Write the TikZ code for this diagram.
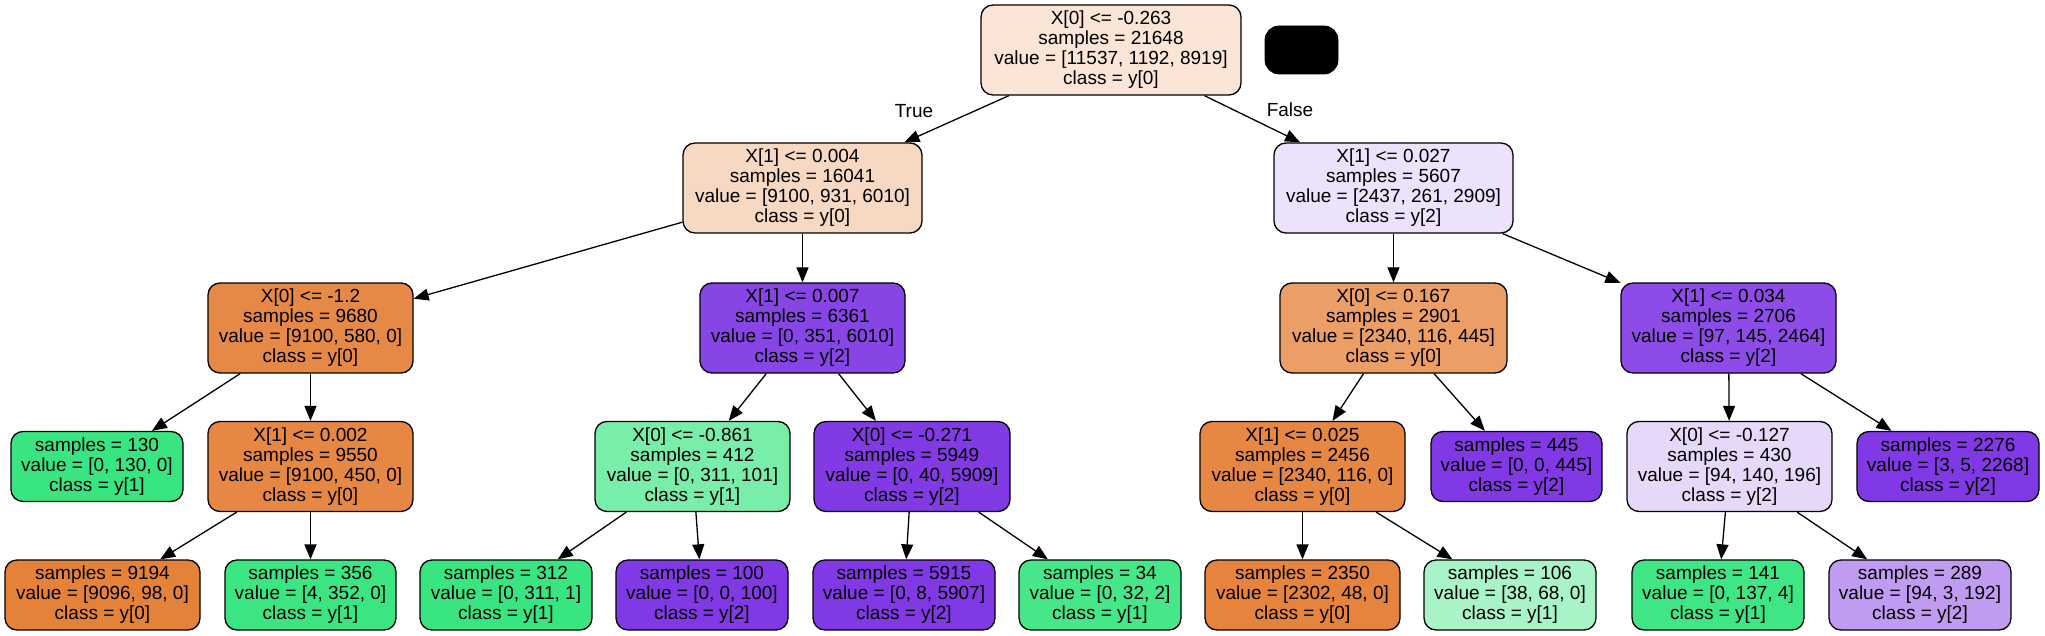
\documentclass[tikz,border=0pt]{standalone}
\usepackage{fontspec}
\setmainfont{Liberation Sans}
\usetikzlibrary{arrows.meta}
\definecolor{cRoot}{RGB}{250,229,214}
\definecolor{cA}{RGB}{247,216,194}
\definecolor{cB}{RGB}{236,226,251}
\definecolor{cC}{RGB}{231,137,70}
\definecolor{cD}{RGB}{136,69,230}
\definecolor{cE}{RGB}{235,158,102}
\definecolor{cF}{RGB}{141,76,231}
\definecolor{cG}{RGB}{57,229,129}
\definecolor{cH}{RGB}{230,135,67}
\definecolor{cI}{RGB}{121,237,170}
\definecolor{cJ}{RGB}{130,58,229}
\definecolor{cK}{RGB}{230,135,67}
\definecolor{cL}{RGB}{129,57,229}
\definecolor{cM}{RGB}{229,216,249}
\definecolor{cN}{RGB}{129,57,229}
\definecolor{cO}{RGB}{229,130,58}
\definecolor{cP}{RGB}{59,229,130}
\definecolor{cQ}{RGB}{57,229,129}
\definecolor{cR}{RGB}{129,57,229}
\definecolor{cS}{RGB}{129,57,229}
\definecolor{cT}{RGB}{69,231,137}
\definecolor{cU}{RGB}{230,131,61}
\definecolor{cV}{RGB}{168,244,199}
\definecolor{cW}{RGB}{63,230,133}
\definecolor{cX}{RGB}{192,155,242}
\tikzset{
  tn/.style={draw=black, rounded corners=6pt, align=center, inner sep=0pt,
    line width=0.65pt, font=\fontsize{9.5}{10}\selectfont, minimum height=45pt},
  leaf/.style={tn, minimum height=35pt},
  edgeline/.style={line width=0.65pt, -{Triangle[length=7.5pt,width=6pt]}},
  lbl/.style={font=\fontsize{9.5}{10}\selectfont, inner sep=0pt}
}
\begin{document}
\begin{tikzpicture}[x=0.5pt,y=-0.5pt]
\useasboundingbox (0,0) rectangle (2045,636);
% level 0
\node[tn, fill=cRoot, minimum width=130pt] (root) at (1111,50) {X[0] <= -0.263\\samples = 21648\\value = [11537, 1192, 8919]\\class = y[0]};
\node[draw=black, fill=black, rounded corners=7pt, minimum width=36.5pt, minimum height=24pt, inner sep=0pt] (blk) at (1301.5,50) {};
% level 1
\node[tn, fill=cA, minimum width=119.5pt] (A) at (802.5,188) {X[1] <= 0.004\\samples = 16041\\value = [9100, 931, 6010]\\class = y[0]};
\node[tn, fill=cB, minimum width=119.5pt] (B) at (1393.5,188) {X[1] <= 0.027\\samples = 5607\\value = [2437, 261, 2909]\\class = y[2]};
% level 2
\node[tn, fill=cC, minimum width=102.5pt] (C) at (310.5,328) {X[0] <= -1.2\\samples = 9680\\value = [9100, 580, 0]\\class = y[0]};
\node[tn, fill=cD, minimum width=102.5pt] (D) at (802.5,328) {X[1] <= 0.007\\samples = 6361\\value = [0, 351, 6010]\\class = y[2]};
\node[tn, fill=cE, minimum width=113.5pt] (E) at (1393.5,328) {X[0] <= 0.167\\samples = 2901\\value = [2340, 116, 445]\\class = y[0]};
\node[tn, fill=cF, minimum width=107.5pt] (F) at (1728.5,328) {X[1] <= 0.034\\samples = 2706\\value = [97, 145, 2464]\\class = y[2]};
% level 3
\node[leaf, fill=cG, minimum width=86pt] (G) at (97,466.5) {samples = 130\\value = [0, 130, 0]\\class = y[1]};
\node[tn, fill=cH, minimum width=102.5pt] (H) at (310.5,466.5) {X[1] <= 0.002\\samples = 9550\\value = [9100, 450, 0]\\class = y[0]};
\node[tn, fill=cI, minimum width=97.5pt] (I) at (692.5,466.5) {X[0] <= -0.861\\samples = 412\\value = [0, 311, 101]\\class = y[1]};
\node[tn, fill=cJ, minimum width=98pt] (J) at (912,466.5) {X[0] <= -0.271\\samples = 5949\\value = [0, 40, 5909]\\class = y[2]};
\node[tn, fill=cK, minimum width=102.5pt] (K) at (1302.5,466.5) {X[1] <= 0.025\\samples = 2456\\value = [2340, 116, 0]\\class = y[0]};
\node[leaf, fill=cL, minimum width=85.5pt] (L) at (1516.5,466.5) {samples = 445\\value = [0, 0, 445]\\class = y[2]};
\node[tn, fill=cM, minimum width=102.5pt] (M) at (1729.5,466.5) {X[0] <= -0.127\\samples = 430\\value = [94, 140, 196]\\class = y[2]};
\node[leaf, fill=cN, minimum width=91pt] (N) at (1948,466.5) {samples = 2276\\value = [3, 5, 2268]\\class = y[2]};
% level 4
\node[leaf, fill=cO, minimum width=97.5pt] (O) at (102.5,595) {samples = 9194\\value = [9096, 98, 0]\\class = y[0]};
\node[leaf, fill=cP, minimum width=85.5pt] (P) at (310.5,595) {samples = 356\\value = [4, 352, 0]\\class = y[1]};
\node[leaf, fill=cQ, minimum width=86pt] (Q) at (506,595) {samples = 312\\value = [0, 311, 1]\\class = y[1]};
\node[leaf, fill=cR, minimum width=86pt] (R) at (702,595) {samples = 100\\value = [0, 0, 100]\\class = y[2]};
\node[leaf, fill=cS, minimum width=91pt] (S) at (904,595) {samples = 5915\\value = [0, 8, 5907]\\class = y[2]};
\node[leaf, fill=cT, minimum width=81pt] (T) at (1100,595) {samples = 34\\value = [0, 32, 2]\\class = y[1]};
\node[leaf, fill=cU, minimum width=97.5pt] (U) at (1302.5,595) {samples = 2350\\value = [2302, 48, 0]\\class = y[0]};
\node[leaf, fill=cV, minimum width=86pt] (V) at (1510,595) {samples = 106\\value = [38, 68, 0]\\class = y[1]};
\node[leaf, fill=cW, minimum width=86pt] (W) at (1718,595) {samples = 141\\value = [0, 137, 4]\\class = y[1]};
\node[leaf, fill=cX, minimum width=91pt] (X) at (1920,595) {samples = 289\\value = [94, 3, 192]\\class = y[2]};
% labels
\node[lbl] (ltrue) at (914,111) {True};
\node[lbl] (lfalse) at (1290,110) {False};
% edges
\foreach \p/\c in {root/A, root/B, A/C, A/D, B/E, B/F, C/G, C/H, D/I, D/J, E/K, E/L, F/M, F/N, H/O, H/P, I/Q, I/R, J/S, J/T, K/U, K/V, M/W, M/X}
  \draw[edgeline] (\p) -- (\c);
\end{tikzpicture}
\end{document}
